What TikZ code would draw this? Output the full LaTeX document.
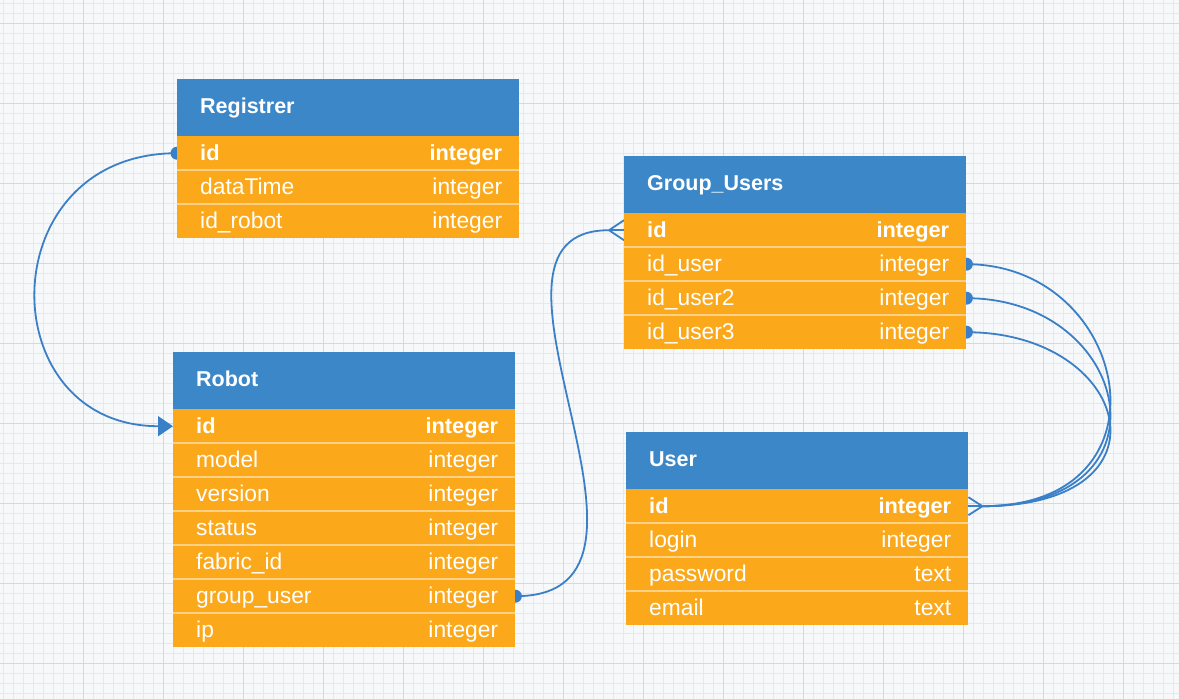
\documentclass[tikz,border=0pt]{standalone}
\usepackage{fontspec}
\setmainfont{Liberation Sans}
\usetikzlibrary{arrows.meta}
\pgfdeclarelayer{gridlayer}
\pgfdeclarelayer{linklayer}
\pgfsetlayers{gridlayer,linklayer,main}
\definecolor{bgc}{RGB}{247,248,250}
\definecolor{gridmin}{RGB}{224,233,252}
\definecolor{gridmaj}{RGB}{200,217,250}
\definecolor{hdrblue}{RGB}{59,135,200}
\definecolor{roworange}{RGB}{251,168,26}
\definecolor{rowsep}{RGB}{252,208,135}
\definecolor{linkblue}{RGB}{58,128,200}
\tikzset{
  hdrbox/.style={fill=hdrblue, draw=none, minimum width=342pt, minimum height=57pt, inner sep=0pt, anchor=north west},
  rowbox/.style={fill=roworange, draw=none, minimum width=342pt, minimum height=34pt, inner sep=0pt, anchor=north west},
  titletext/.style={text=white, font=\fontsize{21.5}{24}\selectfont\bfseries, inner sep=0pt, anchor=base west},
  celltext/.style={text=white, inner sep=0pt},
  sepline/.style={draw=rowsep, line width=1.5pt},
  link/.style={draw=linkblue, line width=1.8pt},
  linkdot/.style={fill=linkblue},
  minorgrid/.style={draw=gridmin, line width=0.7pt},
  majorgrid/.style={draw=gridmaj, line width=1pt}
}
\newcommand\regfont{\fontsize{22.8}{26}\selectfont}
\newcommand\boldfont{\fontsize{21.8}{25}\selectfont\bfseries}
% table header: name, x, y, title
\newcommand\erhead[4]{%
  \node[hdrbox] (#1) at (#2,#3) {};
  \node[titletext] (#1-title) at ([xshift=23pt,yshift=-5.8pt]#1.west) {#4};
}
% table row: table, index, x, y, left text, right text, font
\newcommand\errow[7]{%
  \node[rowbox] (#1-#2) at (#3,#4) {};
  \node[celltext, anchor=base west, font=#7] (#1-#2-l) at ([xshift=23pt,yshift=-6.8pt]#1-#2.west) {#5};
  \node[celltext, anchor=base east, font=#7] (#1-#2-r) at ([xshift=-17pt,yshift=-6.8pt]#1-#2.east) {#6};
}
\newcommand\ersep[1]{\draw[sepline] (#1.north west) -- (#1.north east);}
\begin{document}
\begin{tikzpicture}[x=1pt,y=-1pt]
\useasboundingbox (0,0) rectangle (1179,699);
\begin{pgfonlayer}{gridlayer}
\fill[bgc] (0,0) rectangle (1179,699);
\foreach \g in {3,13,...,1179} \draw[minorgrid] (\g,0) -- (\g,699);
\foreach \g in {3,13,...,699} \draw[minorgrid] (0,\g) -- (1179,\g);
\foreach \g in {83,163,...,1179} \draw[majorgrid] (\g,0) -- (\g,699);
\foreach \g in {23,103,...,699} \draw[majorgrid] (0,\g) -- (1179,\g);
\end{pgfonlayer}

% ---------- tables ----------
% Registrer
\erhead{reg}{177}{79}{Registrer}
\errow{reg}{1}{177}{136}{id}{integer}{\boldfont}
\errow{reg}{2}{177}{170}{dataTime}{integer}{\regfont}
\errow{reg}{3}{177}{204}{id\_robot}{integer}{\regfont}
\ersep{reg-2}\ersep{reg-3}
% Robot
\erhead{rob}{173}{352}{Robot}
\errow{rob}{1}{173}{409}{id}{integer}{\boldfont}
\errow{rob}{2}{173}{443}{model}{integer}{\regfont}
\errow{rob}{3}{173}{477}{version}{integer}{\regfont}
\errow{rob}{4}{173}{511}{status}{integer}{\regfont}
\errow{rob}{5}{173}{545}{fabric\_id}{integer}{\regfont}
\errow{rob}{6}{173}{579}{group\_user}{integer}{\regfont}
\errow{rob}{7}{173}{613}{ip}{integer}{\regfont}
\ersep{rob-2}\ersep{rob-3}\ersep{rob-4}\ersep{rob-5}\ersep{rob-6}\ersep{rob-7}
% Group_Users
\erhead{grp}{624}{156}{Group\_Users}
\errow{grp}{1}{624}{213}{id}{integer}{\boldfont}
\errow{grp}{2}{624}{247}{id\_user}{integer}{\regfont}
\errow{grp}{3}{624}{281}{id\_user2}{integer}{\regfont}
\errow{grp}{4}{624}{315}{id\_user3}{integer}{\regfont}
\ersep{grp-2}\ersep{grp-3}\ersep{grp-4}
% User
\erhead{usr}{626}{432}{User}
\errow{usr}{1}{626}{489}{id}{integer}{\boldfont}
\errow{usr}{2}{626}{523}{login}{integer}{\regfont}
\errow{usr}{3}{626}{557}{password}{text}{\regfont}
\errow{usr}{4}{626}{591}{email}{text}{\regfont}
\ersep{usr-2}\ersep{usr-3}\ersep{usr-4}

% ---------- connectors (behind tables) ----------
\coordinate (cfg) at ([xshift=-15pt]grp-1.west);
\coordinate (cfu) at ([xshift=14pt]usr-1.east);
\begin{pgfonlayer}{linklayer}
% Registrer.id -> Robot.id
\fill[linkdot] (reg-1.west) circle (6.5pt);
\draw[link, -{Triangle[length=15pt,width=20pt]}] (reg-1.west) .. controls ([xshift=-187pt]reg-1.west) and ([xshift=-183pt]rob-1.west) .. (rob-1.west);
% Robot.group_user -> Group_Users.id
\fill[linkdot] (rob-6.east) circle (6.5pt);
\draw[link] (rob-6.east) .. controls ([xshift=187pt]rob-6.east) and ([xshift=-164pt]cfg) .. (cfg);
\draw[link] (cfg) -- (grp-1.west);
\draw[link] (cfg) -- ([yshift=10pt]grp-1.west);
\draw[link] (cfg) -- ([yshift=-10pt]grp-1.west);
% Group_Users.id_user* -> User.id
\fill[linkdot] (grp-2.east) circle (6.5pt);
\fill[linkdot] (grp-3.east) circle (6.5pt);
\fill[linkdot] (grp-4.east) circle (6.5pt);
\draw[link] (grp-2.east) .. controls ([xshift=164pt]grp-2.east) and ([xshift=196pt]cfu) .. (cfu);
\draw[link] (grp-3.east) .. controls ([xshift=164pt]grp-3.east) and ([xshift=196pt]cfu) .. (cfu);
\draw[link] (grp-4.east) .. controls ([xshift=164pt]grp-4.east) and ([xshift=196pt]cfu) .. (cfu);
\draw[link] (cfu) -- (usr-1.east);
\draw[link] (cfu) -- ([yshift=9pt]usr-1.east);
\draw[link] (cfu) -- ([yshift=-9pt]usr-1.east);
\end{pgfonlayer}
\end{tikzpicture}
\end{document}
